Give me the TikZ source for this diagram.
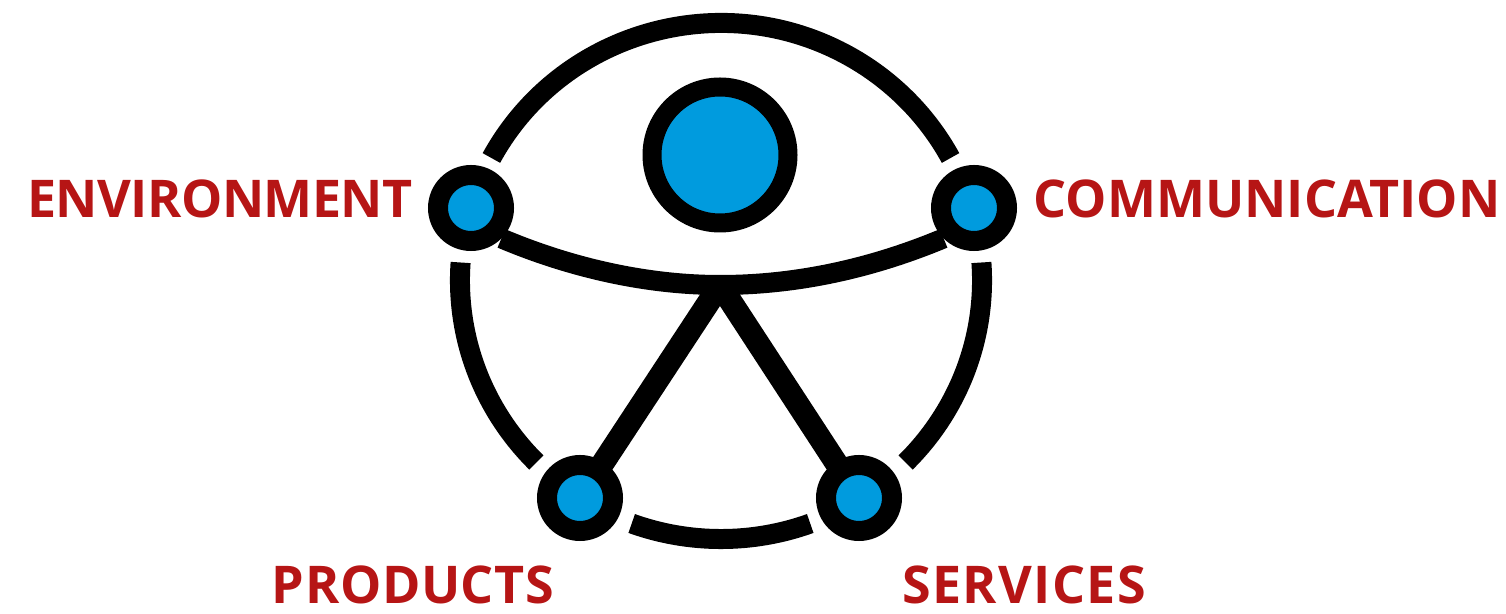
\documentclass[tikz,border=0pt]{standalone}
\usepackage{fontspec}
\usetikzlibrary{backgrounds}
\setmainfont{Open Sans}
\definecolor{hubblue}{HTML}{009BDE}
\definecolor{labred}{HTML}{B61515}
\tikzset{
 px/.style={x=0.5pt,y=-0.5pt},
 ring/.style={line width=10pt,draw=black},
 limb/.style={line width=10pt,draw=black},
 leg/.style={line width=11.5pt,draw=black},
 hub/.style={circle,draw=black,fill=hubblue,line width=10pt,minimum size=33pt,inner sep=0pt},
 head/.style={circle,draw=black,fill=hubblue,line width=9.5pt,minimum size=68pt,inner sep=0pt},
 lab/.style={text=labred,font=\bfseries\fontsize{26pt}{26pt}\selectfont,inner sep=0pt,anchor=base}
}
\begin{document}
\begin{tikzpicture}[px]
\useasboundingbox (0,0) rectangle (1506,614);
\node[head] (headc) at (720,155) {};
\node[hub] (env) at (471,208) {};
\node[hub] (com) at (974,208) {};
\node[hub] (prod) at (580,498) {};
\node[hub] (serv) at (859,498) {};
\coordinate (hip) at (720,285);
\begin{scope}[on background layer]
\draw[ring] (491.4,158) arc[start angle=151.6,end angle=28.4,x radius=130.5pt,y radius=128.75pt];
\draw[ring] (460.6,262.5) arc[start angle=176,end angle=225,x radius=130.5pt,y radius=128.75pt];
\draw[ring] (981.4,262.5) arc[start angle=4,end angle=-45,x radius=130.5pt,y radius=128.75pt];
\draw[ring] (631.7,523.5) arc[start angle=250,end angle=290,x radius=130.5pt,y radius=128.75pt];
\draw[limb] (env.-45) .. controls (569,267) and (645,285) .. (hip) .. controls (800,285) and (875,267) .. (com.-135);
\draw[leg] (hip) -- (prod.center);
\draw[leg] (hip) -- (serv.center);
\end{scope}
\node[lab] (tenv) at (220,218) {\addfontfeature{LetterSpace=-1.1}ENVIRONMENT};
\node[lab] (tcom) at (1267,218) {COMMUNICATION};
\node[lab] (tprod) at (413,604) {\addfontfeature{LetterSpace=1.1}PRODUCTS};
\node[lab] (tserv) at (1024,604) {\addfontfeature{LetterSpace=2.7}SERVICES};
\end{tikzpicture}
\end{document}
